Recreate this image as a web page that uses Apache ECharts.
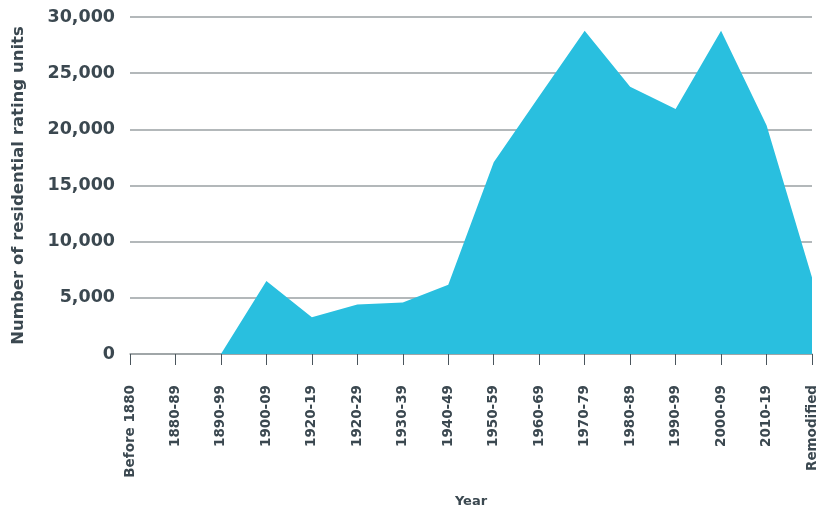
<!DOCTYPE html>
<html>
<head>
<meta charset="utf-8">
<script src="https://cdn.jsdelivr.net/npm/echarts@6/dist/echarts.min.js"></script>
<style>html,body{margin:0;padding:0;background:#fff}#c{width:825px;height:511px}</style>
</head>
<body>
<div id="c"></div>
<script>
const categories = ["Before 1880","1880-89","1890-99","1900-09","1920-19","1920-29","1930-39","1940-49","1950-59","1960-69","1970-79","1980-89","1990-99","2000-09","2010-19","Remodified"];
const units = [0,0,0,6500,3270,4400,4580,6160,17080,22950,28780,23780,21810,28780,20360,6810];
const yTicks = {min:0, max:30000, interval:5000};

const txt = '#3b4850';
const font = 'DejaVu Sans';
const chart = echarts.init(document.getElementById('c'));
chart.setOption({
  animation:false,
  grid:{left:130, right:13, top:17, bottom:157, containLabel:false, outerBoundsMode:'none'},
  xAxis:{
    type:'category', data:categories, boundaryGap:false,
    name:'Year', nameLocation:'middle', nameGap:141,
    nameTextStyle:{color:txt, fontFamily:font, fontWeight:'bold', fontSize:13},
    axisLine:{lineStyle:{color:'#9aa0a3', width:1.5}},
    axisTick:{show:true, length:11, lineStyle:{color:'#4a555c', width:1}},
    axisLabel:{rotate:90, margin:31, color:txt, fontFamily:font, fontWeight:'bold', fontSize:13.5, interval:0},
    splitLine:{show:false}
  },
  yAxis:{
    type:'value', min:yTicks.min, max:yTicks.max, interval:yTicks.interval,
    name:'Number of residential rating units', nameLocation:'middle', nameGap:103,
    nameTextStyle:{color:txt, fontFamily:font, fontWeight:'bold', fontSize:16.5},
    axisLine:{show:false},
    axisTick:{show:false},
    axisLabel:{margin:15, color:txt, fontFamily:font, fontWeight:'bold', fontSize:17.5,
      formatter:v=>v.toLocaleString('en-US')},
    splitLine:{lineStyle:{color:'#9aa0a3', width:1.5}}
  },
  series:[{
    type:'line', data:units, symbol:'none',
    lineStyle:{width:0, color:'#29bfdf'},
    areaStyle:{color:'#29bfdf', opacity:1}
  }]
});
</script>
</body>
</html>
